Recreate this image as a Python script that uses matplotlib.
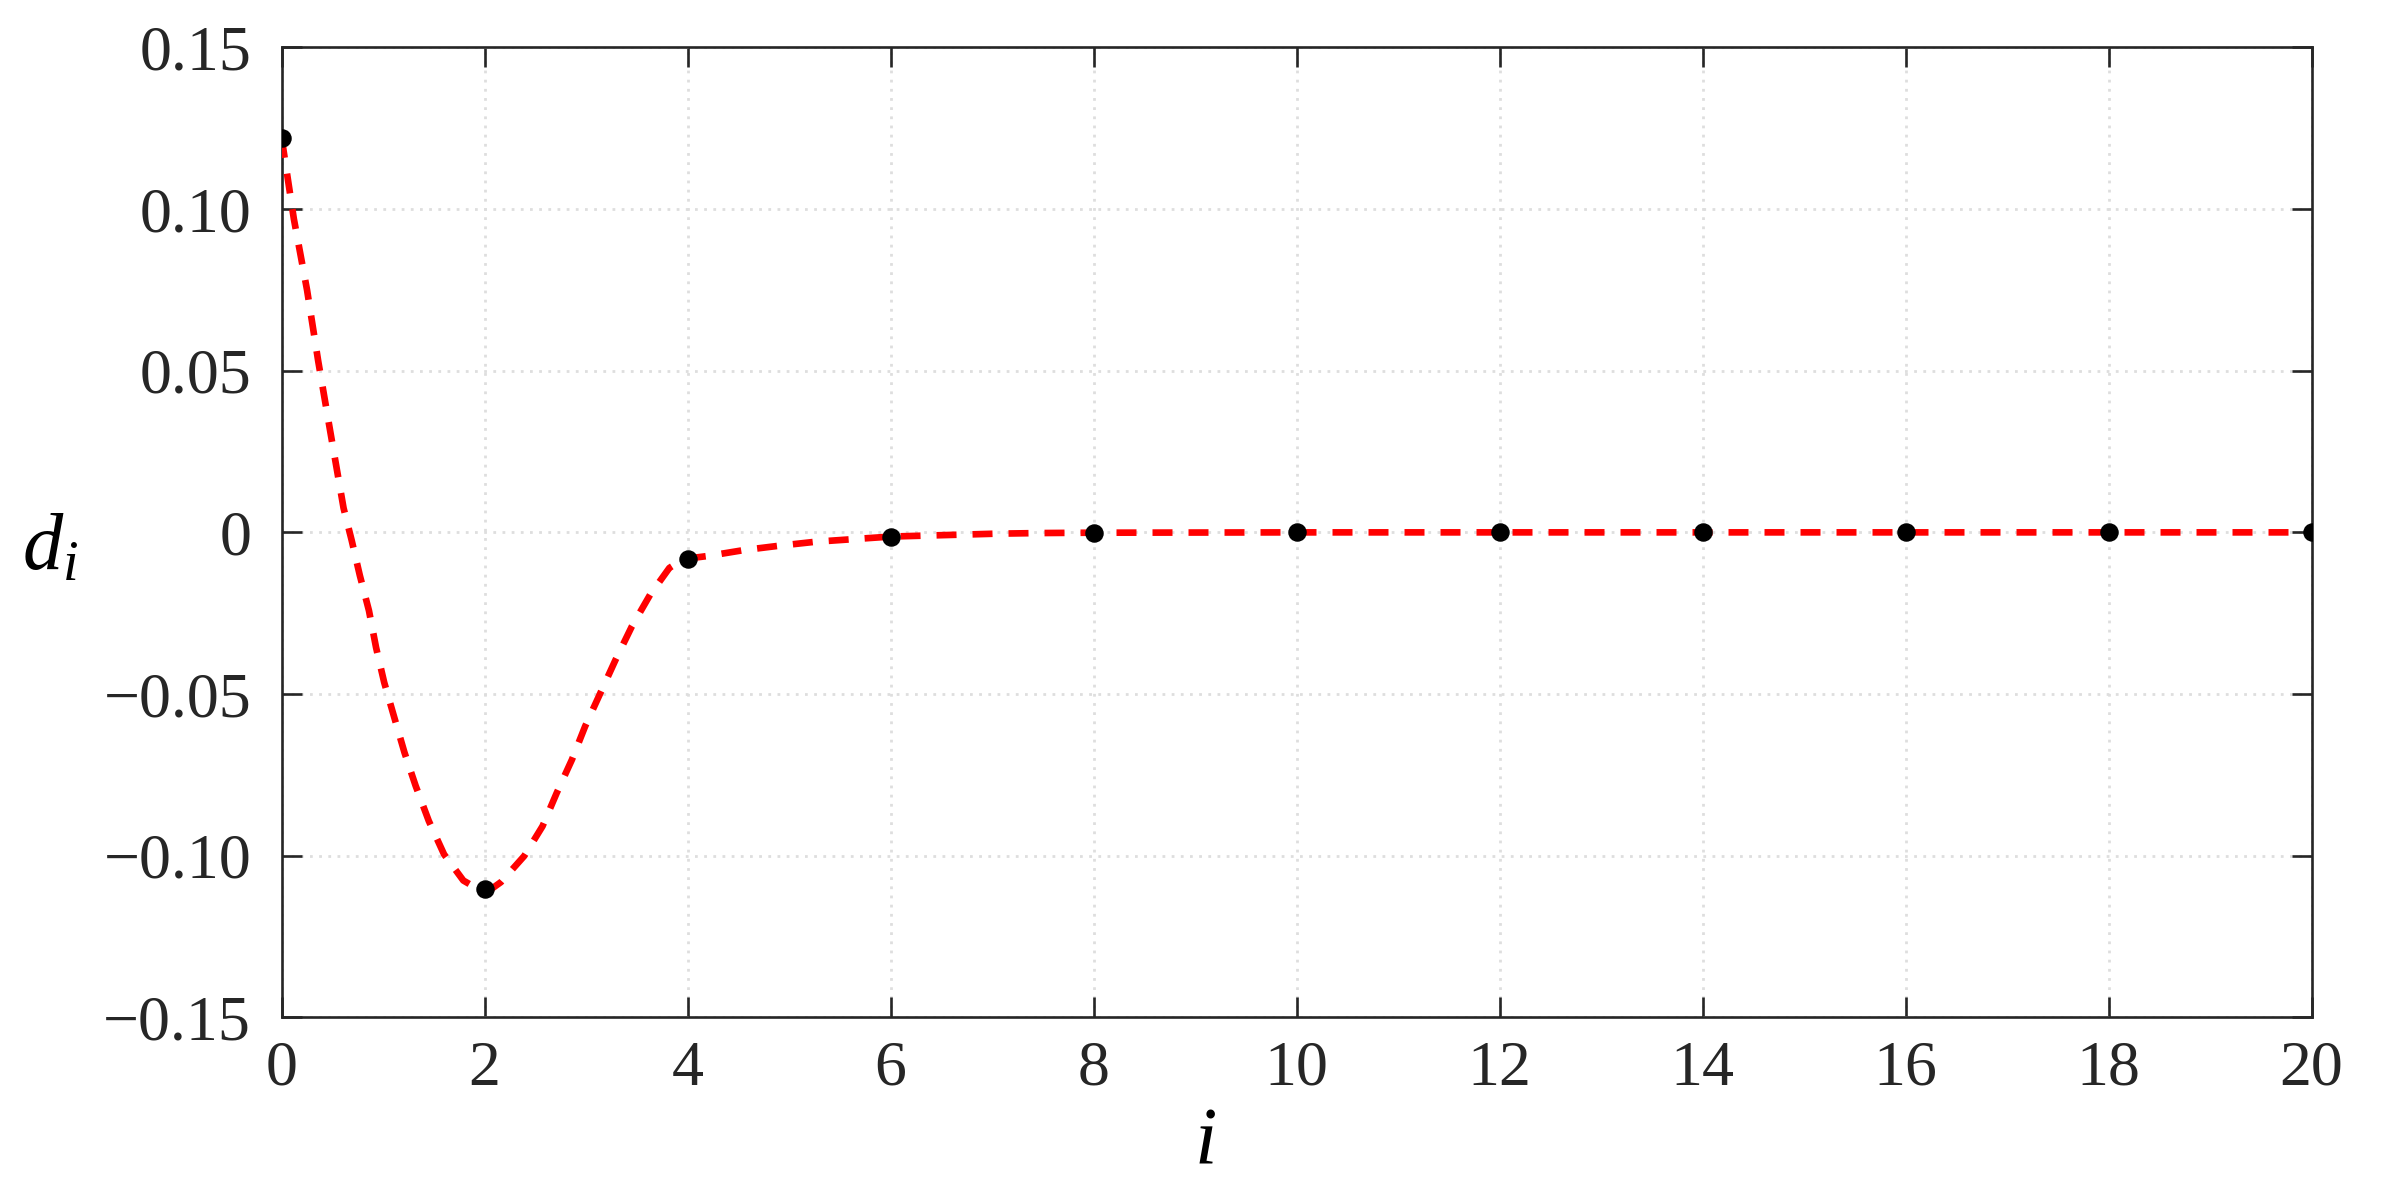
import matplotlib
matplotlib.use('Agg')
import matplotlib.pyplot as plt

# sampled values d_i at even i
i_pts = [0, 2, 4, 6, 8, 10, 12, 14, 16, 18, 20]
d_pts = [0.122, -0.1104, -0.0081, -0.0013, -0.0001, 0, 0, 0, 0, 0, 0]

# smooth dashed curve
curve_i = [0, 0.12, 0.25, 0.36, 0.48, 0.61, 0.69, 0.77, 0.86, 0.93, 1.01, 1.11,
           1.21, 1.32, 1.45, 1.60, 1.79, 1.90, 2.00, 2.08, 2.16, 2.39, 2.57, 2.71,
           2.86, 2.99, 3.14, 3.29, 3.45, 3.63, 3.82, 3.91, 4.00, 4.20, 4.55, 4.91,
           5.26, 5.63, 6.00, 6.34, 6.70, 7.04, 7.50, 8.00, 10, 12, 14, 16, 18, 20]
curve_d = [0.122, 0.097, 0.075, 0.053, 0.031, 0.0075, -0.0025, -0.0133, -0.0242,
           -0.0356, -0.0464, -0.0573, -0.0681, -0.0784, -0.0893, -0.0996, -0.1077,
           -0.1097, -0.1104, -0.1100, -0.1082, -0.1001, -0.0909, -0.0806, -0.0703,
           -0.0600, -0.0497, -0.0394, -0.0291, -0.0193, -0.0110, -0.0092, -0.0081,
           -0.0073, -0.0055, -0.0041, -0.0029, -0.0021, -0.0013, -0.0010, -0.0007,
           -0.0004, -0.0002, -0.0001, 0, 0, 0, 0, 0, 0]

xticks = list(range(0, 21, 2))
yticks = [-0.15, -0.10, -0.05, 0, 0.05, 0.10, 0.15]
ytick_labels = ['\u22120.15', '\u22120.10', '\u22120.05', '0', '0.05', '0.10', '0.15']

plt.rcParams['font.family'] = ['Liberation Serif', 'DejaVu Serif']
plt.rcParams['mathtext.fontset'] = 'custom'
plt.rcParams['mathtext.it'] = 'Liberation Serif:italic'
plt.rcParams['mathtext.rm'] = 'Liberation Serif'

fig = plt.figure(figsize=(23.89, 11.93), dpi=100)
ax = fig.add_axes([0.1179, 0.1473, 0.8497, 0.8129])

ax.plot(curve_i, curve_d, color='#ff0000', lw=4.8, ls=(0, (3.0, 2.4)), zorder=3)
ax.plot(i_pts, d_pts, 'o', color='black', ms=12.3, zorder=4)

ax.set_xlim(0, 20)
ax.set_ylim(-0.15, 0.15)
ax.set_xticks(xticks)
ax.set_yticks(yticks)
ax.set_yticklabels(ytick_labels)

ax.grid(True, color='#dedede', lw=2, ls=(0, (1, 2.3)), zorder=0)
ax.tick_params(direction='in', length=14.4, width=1.9, colors='#262626',
               labelsize=46, top=True, right=True)
ax.tick_params(axis='x', pad=17)
ax.tick_params(axis='y', pad=22)
for s in ax.spines.values():
    s.set_linewidth(1.9)
    s.set_color('#262626')

ax.set_xlabel(r'$i$', fontsize=58)
ax.xaxis.set_label_coords(0.455, -0.13)
ax.xaxis.label.set_va('center')
ax.set_ylabel(r'$d_i$', fontsize=58, rotation=0)
ax.yaxis.set_label_coords(-0.114, 0.482)
ax.yaxis.label.set_va('center')

fig.savefig('out.png', dpi=100)
